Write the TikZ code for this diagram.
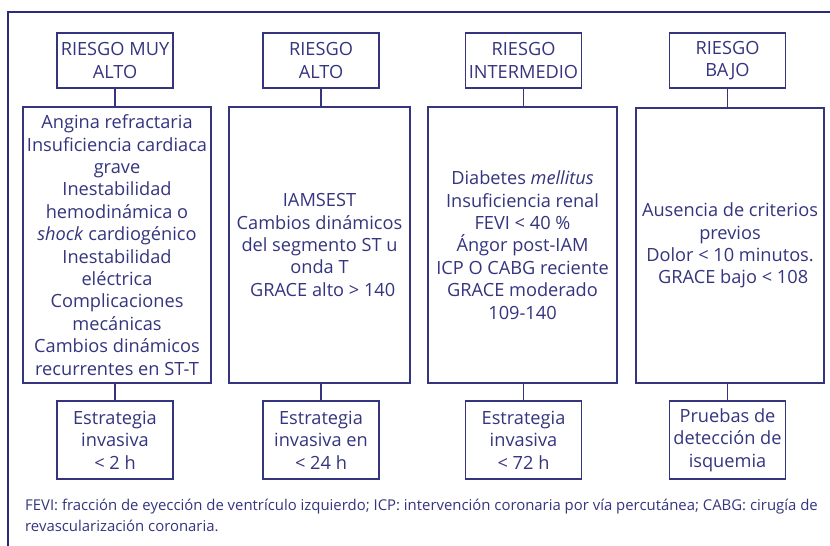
\documentclass[tikz,border=0pt]{standalone}
\usepackage{fontspec}
\setmainfont{Open Sans}
\definecolor{ink}{HTML}{35357F}
\definecolor{frame}{HTML}{2B2B78}
\begin{document}
\begin{tikzpicture}[x=1pt,y=1pt,
  box/.style={draw=ink,line width=1.1pt,text=ink,align=center,inner sep=0pt,
    font=\fontsize{18.2}{22.4}\selectfont},
  headbox/.style={box,minimum width=116pt,minimum height=55pt},
  midbox/.style={box,minimum height=276pt},
  endbox/.style={box,minimum width=116pt,minimum height=78pt},
  link/.style={draw=ink,line width=1.1pt}]
\useasboundingbox (0,0) rectangle (830,-546);
\fill[white] (0,0) rectangle (830,-546);
\draw[frame,line width=2.6pt] (8,-546) -- (8,-12) -- (830,-12);

\node[headbox] (h1) at (115,-60.5) {RIESGO MUY\\ALTO};
\node[headbox] (h2) at (321,-60.5) {RIESGO\\ALTO};
\node[headbox] (h3) at (523.5,-60.5) {RIESGO\\INTERMEDIO};
\node[headbox] (h4) at (727.5,-60.5) {RIESGO\\BAJO};

\node[midbox,minimum width=188pt] (m1) at (117,-245) {Angina refractaria\\Insuficiencia cardiaca\\grave\\Inestabilidad\\hemodinámica o\\\emph{shock} cardiogénico\\Inestabilidad\\eléctrica\\Complicaciones\\mecánicas\\Cambios dinámicos\\recurrentes en ST-T};
\node[midbox,minimum width=181pt] (m2) at (319.5,-245) {IAMSEST\\Cambios dinámicos\\del segmento ST u\\onda T\\\hspace*{0.35em}GRACE alto > 140};
\node[midbox,minimum width=189pt] (m3) at (522.5,-245) {Diabetes \emph{mellitus}\\Insuficiencia renal\\FEVI < 40 \%\\Ángor post-IAM\\ICP O CABG reciente\\GRACE moderado\\109-140};
\node[midbox,minimum width=188pt,minimum height=275pt] (m4) at (730,-245.5) {Ausencia de criterios\\previos\\Dolor < 10 minutos.\\\hspace*{0.35em}GRACE bajo < 108};

\node[endbox] (e1) at (115,-440) {Estrategia\\invasiva\\< 2 h};
\node[endbox] (e2) at (321,-440) {Estrategia\\invasiva en\\< 24 h};
\node[endbox] (e3) at (523.5,-440) {Estrategia\\invasiva\\< 72 h};
\node[endbox] (e4) at (727.5,-440) {Pruebas de\\detección de\\isquemia};

\foreach \i in {1,2,3,4}{
  \draw[link] (h\i.south) -- (h\i.south |- m\i.north);
  \draw[link] (e\i.north |- m\i.south) -- (e\i.north);
}

\node[anchor=north west,text=ink,align=left,inner sep=0pt,
  font=\fontsize{14.9}{20.5}\selectfont] (fn) at (25,-499)
  {FEVI: fracción de eyección de ventrículo izquierdo; ICP: intervención coronaria por vía percutánea; CABG: cirugía de\\revascularización coronaria.};
\end{tikzpicture}
\end{document}
